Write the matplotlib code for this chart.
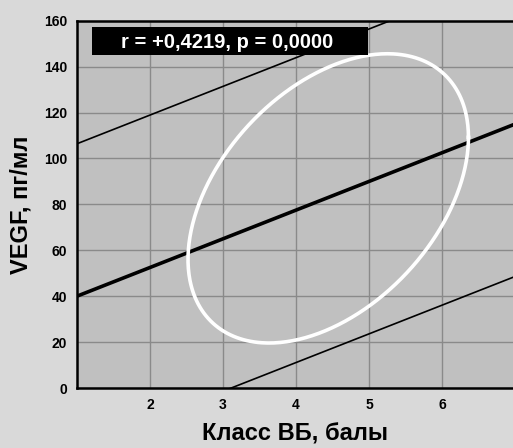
import numpy as np
import matplotlib
matplotlib.use("Agg")
import matplotlib.pyplot as plt
from matplotlib.patches import Rectangle

plt.rcParams["font.family"] = ["Liberation Sans", "DejaVu Sans"]

# regression fit and prediction band
slope = 12.5
intercept = 27.5
band = 66.4
# 95% ellipse: centre, half-spreads, correlation
centre_x, centre_y = 4.44, 82.6
half_x, half_y = 1.92, 63.0
r_val = 0.4219

x_ticks = [2, 3, 4, 5, 6]
y_ticks = [0, 20, 40, 60, 80, 100, 120, 140, 160]
x_lim = (1, 6.97)
y_lim = (0, 160)

FIG_BG, AX_BG, GRID = "#d9d9d9", "#c0c0c0", "#8a8a8a"

fig = plt.figure(figsize=(5.13, 4.48), dpi=100, facecolor=FIG_BG)
ax = fig.add_axes([77/513, 60/448, 436/513, 367.3/448])
ax.set_facecolor(AX_BG)
ax.set_xlim(*x_lim); ax.set_ylim(*y_lim)
ax.set_xticks(x_ticks); ax.set_yticks(y_ticks)
ax.set_xticklabels([str(t) for t in x_ticks], fontsize=10, fontweight="bold")
ax.set_yticklabels([str(t) for t in y_ticks], fontsize=10, fontweight="bold")
ax.tick_params(length=0, pad=7)
ax.grid(color=GRID, lw=1, zorder=0)
ax.set_axisbelow(True)
for s in ("left", "bottom", "top"):
    ax.spines[s].set_color("black"); ax.spines[s].set_linewidth(1.8)
ax.spines["right"].set_visible(False)

xs = np.array(x_lim)
ax.plot(xs, intercept + slope*xs, color="black", lw=2.6, zorder=3)
ax.plot(xs, intercept + band + slope*xs, color="black", lw=1.2, zorder=3)
ax.plot(xs, intercept - band + slope*xs, color="black", lw=1.2, zorder=3)

t = np.linspace(0, 2*np.pi, 400)
ex = centre_x + half_x*np.cos(t)
ey = centre_y + half_y*(r_val*np.cos(t) + np.sqrt(1 - r_val**2)*np.sin(t))
ax.plot(ex, ey, color="white", lw=2.6, zorder=4)

# statistics label box
ax.add_patch(Rectangle((15/436, 333/367.3), 276/436, 28/367.3, transform=ax.transAxes,
                       facecolor="black", edgecolor="none", zorder=5, clip_on=False))
ax.text(150/436, 346/367.3, f"r = +{r_val:.4f}, p = 0,0000".replace(".", ","),
        transform=ax.transAxes, color="white", fontsize=14.5, fontweight="bold",
        ha="center", va="center", zorder=6)

ax.set_xlabel("Класс ВБ, балы", fontsize=17, fontweight="bold", labelpad=8)
ax.set_ylabel("VEGF, пг/мл", fontsize=17, fontweight="bold", labelpad=8)

fig.savefig("out.png", dpi=100, facecolor=FIG_BG)
